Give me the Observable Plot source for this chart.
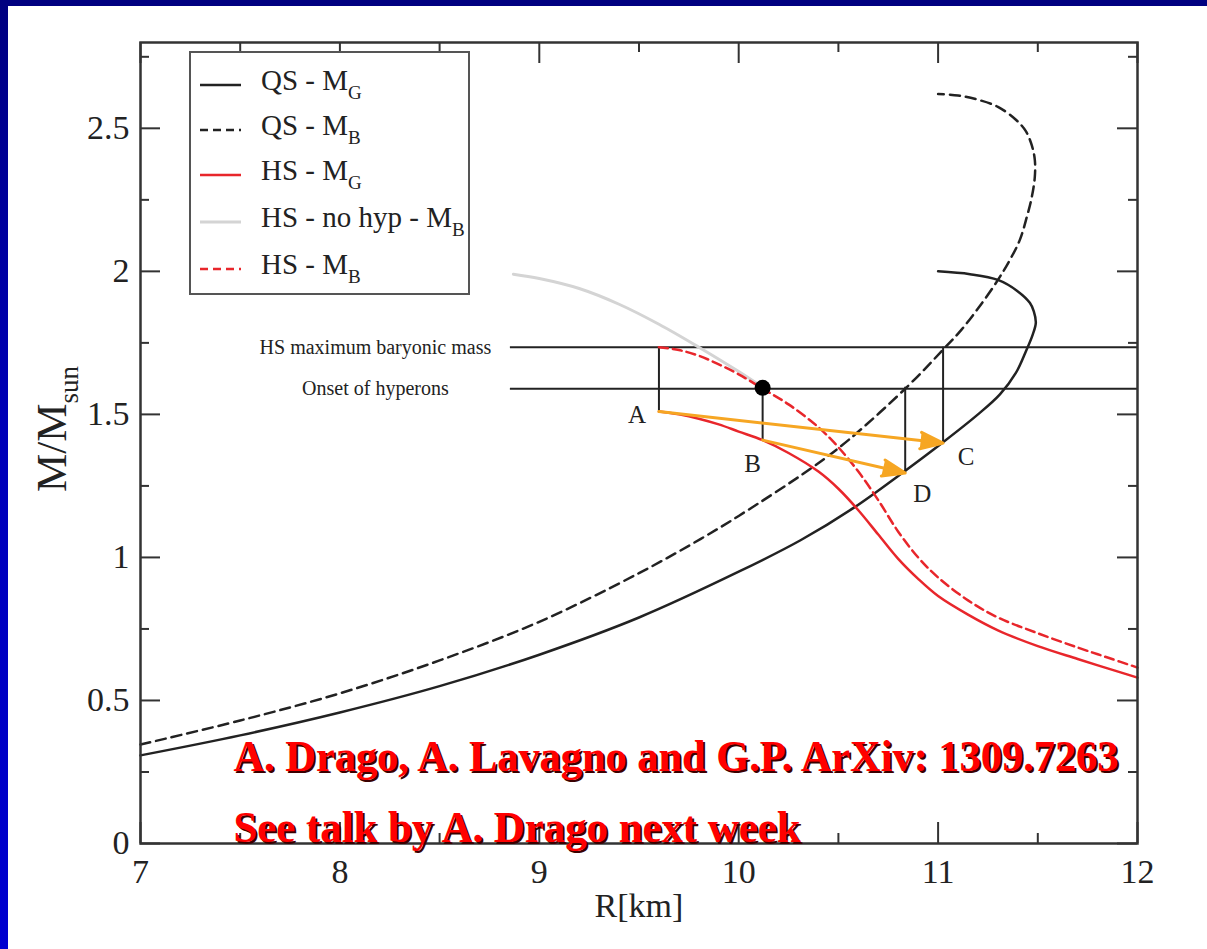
<!DOCTYPE html>
<html><head><meta charset="utf-8">
<script src="https://cdn.jsdelivr.net/npm/d3@7"></script>
<script src="https://cdn.jsdelivr.net/npm/@observablehq/plot@0.6"></script>
<style>
html,body{margin:0;padding:0;background:#fff;width:1207px;height:949px;overflow:hidden;position:relative;font-family:'Liberation Serif','Times New Roman',serif;}
#topband{position:absolute;left:0;top:0;width:1207px;height:6px;background:#000080;}
#leftband{position:absolute;left:0;top:0;width:8px;height:949px;background:linear-gradient(#000080,#0000b8 45%,#0000d0);}
#chart{position:absolute;left:0;top:0;}
#legend{position:absolute;left:189px;top:51px;width:281px;height:244px;border:2px solid #555;background:#fff;box-sizing:border-box;}
.lrow{position:absolute;left:0;height:30px;width:100%;}
.lrow svg{position:absolute;left:9px;top:0;}
.lrow span{position:absolute;left:70px;top:-5px;font-size:29px;color:#222;white-space:nowrap;line-height:30px;}
.lrow sub{font-size:19px;vertical-align:-9px;line-height:0;}
</style></head>
<body>
<div id="topband"></div><div id="leftband"></div>
<div id="chart"></div>
<div id="legend"></div>
<script>
// ---------- data ----------
const xTicks = [7, 8, 9, 10, 11, 12];
const xMinor = [7.5, 8.5, 9.5, 10.5, 11.5];
const yTicks = [0, 0.5, 1, 1.5, 2, 2.5];
const yMinor = [0.25, 0.75, 1.25, 1.75, 2.25, 2.75];

// QS - M_G  [R km, M/Msun]
const qsMG = [[7,0.308],[7.5,0.378],[8,0.458],[8.5,0.55],[9,0.66],[9.5,0.79],[10.0,0.95],[10.31,1.06],
  [10.58,1.175],[10.81,1.29],[11.02,1.40],[11.2,1.50],[11.31,1.57],[11.39,1.645],[11.44,1.72],[11.475,1.78],
  [11.49,1.82],[11.48,1.86],[11.46,1.89],[11.40,1.93],[11.30,1.97],[11.16,1.99],[11.0,2.0]];
// QS - M_B
const qsMB = [[7,0.346],[7.5,0.43],[8,0.525],[8.5,0.64],[9,0.775],[9.5,0.945],[9.81,1.065],[10.0,1.145],
  [10.36,1.31],[10.55,1.41],[10.85,1.60],[11.03,1.73],[11.11,1.79],[11.20,1.87],[11.30,1.97],[11.36,2.04],
  [11.41,2.11],[11.445,2.19],[11.47,2.26],[11.485,2.33],[11.485,2.39],[11.47,2.44],[11.44,2.49],[11.39,2.53],
  [11.3,2.575],[11.2,2.60],[11.1,2.615],[11.0,2.62]];
// HS - M_G
const hsMG = [[9.60,1.51],[9.7,1.50],[9.8,1.485],[9.9,1.465],[10.0,1.44],[10.12,1.41],[10.25,1.365],[10.4,1.30],
  [10.5,1.24],[10.6,1.165],[10.7,1.08],[10.8,0.995],[10.9,0.925],[11.0,0.865],[11.15,0.80],[11.3,0.745],
  [11.5,0.69],[11.7,0.645],[11.85,0.612],[12.0,0.58]];
// HS - M_B
const hsMB = [[9.60,1.735],[9.7,1.725],[9.8,1.705],[9.9,1.675],[10.0,1.64],[10.12,1.59],[10.25,1.535],[10.4,1.455],
  [10.5,1.385],[10.6,1.30],[10.7,1.20],[10.8,1.09],[10.9,1.00],[11.0,0.93],[11.15,0.85],[11.3,0.79],
  [11.5,0.735],[11.7,0.685],[11.85,0.65],[12.0,0.615]];
// HS - no hyp - M_B
const hsNoHyp = [[8.87,1.99],[9.0,1.975],[9.2,1.94],[9.4,1.885],[9.6,1.815],[9.8,1.735],[10.0,1.65],[10.12,1.595]];

const hLines = [
  {label: "HS maximum baryonic mass", y: 1.735, x1: 8.855, x2: 12},
  {label: "Onset of hyperons", y: 1.59, x1: 8.855, x2: 12}
];
const vLines = [
  {x: 9.60, y1: 1.735, y2: 1.51},
  {x: 10.12, y1: 1.59, y2: 1.41},
  {x: 10.835, y1: 1.595, y2: 1.295},
  {x: 11.025, y1: 1.735, y2: 1.40}
];
const points = [
  {name: "A", x: 9.60, y: 1.51},
  {name: "B", x: 10.12, y: 1.41},
  {name: "C", x: 11.025, y: 1.40},
  {name: "D", x: 10.835, y: 1.295}
];
const arrows = [
  {from: "A", to: "C"},
  {from: "B", to: "D"}
];
const onsetDot = [{x: 10.12, y: 1.593}];
const citeLines = ["A. Drago, A. Lavagno and G.P. ArXiv: 1309.7263", "See talk by A. Drago next week"];
const legendItems = [
  {label: "QS - M_G", color: "#222", dash: null},
  {label: "QS - M_B", color: "#222", dash: "8,5"},
  {label: "HS - M_G", color: "#e8262b", dash: null},
  {label: "HS - no hyp - M_B", color: "#d4d4d4", dash: null},
  {label: "HS - M_B", color: "#e8262b", dash: "8,5"}
];
const xLabel = "R[km]";
const yLabel = "M/M_sun";

// ---------- styles ----------
const BLACK = "#222", RED = "#e8262b", GRAY = "#d4d4d4", ORANGE = "#f6a623";
const labelOffsets = {A: [-22, 3], B: [-10, 24], C: [23, 14], D: [17, 21]};
const byName = Object.fromEntries(points.map(p => [p.name, p]));
const arrowData = arrows.map(a => ({x1: byName[a.from].x, y1: byName[a.from].y, x2: byName[a.to].x, y2: byName[a.to].y}));
const P = d => ({R: d[0], M: d[1]});

const tickLenMajX = 21 / 286, tickLenMinX = 10 / 286;   // in y units (ticks on horizontal axes)
const tickLenMajY = 20 / 199.4, tickLenMinY = 9 / 199.4; // in x units
const FONT = "'Liberation Serif', 'Times New Roman', serif";

const chart = Plot.plot({
  width: 1207, height: 949,
  marginLeft: 140, marginRight: 70, marginTop: 42, marginBottom: 106,
  style: {background: "transparent", fontFamily: FONT, color: "#222", overflow: "visible"},
  x: {domain: [7, 12]},
  y: {domain: [0, 2.8]},
  marks: [
    // ticks (inward, all four sides)
    Plot.ruleX(xTicks, {x: d => d, y1: 0, y2: tickLenMajX, stroke: "#333", strokeWidth: 2}),
    Plot.ruleX(xMinor, {x: d => d, y1: 0, y2: tickLenMinX, stroke: "#333", strokeWidth: 2}),
    Plot.ruleX(xTicks, {x: d => d, y1: 2.8 - tickLenMajX, y2: 2.8, stroke: "#333", strokeWidth: 2}),
    Plot.ruleX(xMinor, {x: d => d, y1: 2.8 - tickLenMinX, y2: 2.8, stroke: "#333", strokeWidth: 2}),
    Plot.ruleY(yTicks, {y: d => d, x1: 7, x2: 7 + tickLenMajY, stroke: "#333", strokeWidth: 2}),
    Plot.ruleY(yMinor, {y: d => d, x1: 7, x2: 7 + tickLenMinY, stroke: "#333", strokeWidth: 2}),
    Plot.ruleY(yTicks, {y: d => d, x1: 12 - tickLenMajY, x2: 12, stroke: "#333", strokeWidth: 2}),
    Plot.ruleY(yMinor, {y: d => d, x1: 12 - tickLenMinY, x2: 12, stroke: "#333", strokeWidth: 2}),
    Plot.axisX({ticks: xTicks, tickSize: 0, tickPadding: 15, fontSize: 34, label: null, tickFormat: d => String(d)}),
    Plot.axisY({ticks: yTicks, tickSize: 0, tickPadding: 11, fontSize: 34, label: null, tickFormat: d => String(d)}),
    // reference lines
    Plot.ruleY(hLines, {y: "y", x1: "x1", x2: "x2", stroke: BLACK, strokeWidth: 2}),
    Plot.text(hLines, {x: "x1", y: "y", text: "label", dx: -135, textAnchor: "middle", fontSize: 20, fill: BLACK}),
    Plot.ruleX(vLines, {x: "x", y1: "y1", y2: "y2", stroke: BLACK, strokeWidth: 2}),
    // curves
    Plot.line(hsNoHyp.map(P), {x: "R", y: "M", stroke: GRAY, strokeWidth: 3, curve: "catmull-rom"}),
    Plot.line(qsMG.map(P), {x: "R", y: "M", stroke: BLACK, strokeWidth: 2.5, curve: "catmull-rom"}),
    Plot.line(qsMB.map(P), {x: "R", y: "M", stroke: BLACK, strokeWidth: 2.5, strokeDasharray: "10,6", curve: "catmull-rom"}),
    Plot.line(hsMG.map(P), {x: "R", y: "M", stroke: RED, strokeWidth: 2.5, curve: "catmull-rom"}),
    Plot.line(hsMB.map(P), {x: "R", y: "M", stroke: RED, strokeWidth: 2.5, strokeDasharray: "9,5", curve: "catmull-rom"}),
    // arrows and onset point
    Plot.arrow(arrowData, {x1: "x1", y1: "y1", x2: "x2", y2: "y2", stroke: ORANGE, strokeWidth: 3, headLength: 12, headAngle: 40, ariaDescription: "orange-arrows"}),
    Plot.dot(onsetDot, {x: "x", y: "y", r: 8, fill: "#000"}),
    ...points.map(p => Plot.text([p], {x: "x", y: "y", text: "name", dx: labelOffsets[p.name][0], dy: labelOffsets[p.name][1], fontSize: 25, fill: BLACK})),
    // axis titles
    Plot.text([xLabel], {frameAnchor: "bottom", dx: 0, dy: 73, fontSize: 34, fill: BLACK}),
    Plot.text([yLabel], {frameAnchor: "left", textAnchor: "middle", dx: -88, dy: -14, rotate: -90, fontSize: 43, fill: BLACK}),
    // frame
    Plot.frame({stroke: "#333", strokeWidth: 2.5}),
    // citation (shadow + red)
    Plot.text([citeLines[0]], {frameAnchor: "bottom-left", dx: 95, dy: -71, textAnchor: "start", fontSize: 45, fontWeight: "bold", fill: "#3a0000"}),
    Plot.text([citeLines[0]], {frameAnchor: "bottom-left", dx: 93, dy: -73, textAnchor: "start", fontSize: 45, fontWeight: "bold", fill: "#ff0000"}),
    Plot.text([citeLines[1]], {frameAnchor: "bottom-left", dx: 95, dy: 0, textAnchor: "start", fontSize: 45, fontWeight: "bold", fill: "#3a0000"}),
    Plot.text([citeLines[1]], {frameAnchor: "bottom-left", dx: 93, dy: -2, textAnchor: "start", fontSize: 45, fontWeight: "bold", fill: "#ff0000"})
  ]
});
document.getElementById("chart").appendChild(chart);

// filled arrow heads: fill the arrow paths (the head sub-path closes into a triangle)
d3.select(chart).selectAll('g[aria-description="orange-arrows"] path').attr("fill", ORANGE).attr("stroke-linejoin", "miter");

// fit citation widths (condensed face)
const citeWidths = [885, 567];
d3.select(chart).selectAll("text").each(function() {
  const i = citeLines.indexOf(this.textContent);
  if (i >= 0) { this.setAttribute("textLength", citeWidths[i]); this.setAttribute("lengthAdjust", "spacingAndGlyphs"); }
});

// subscripts (text after "_")
d3.select(chart).selectAll("text").each(function() {
  const t = this;
  const s = t.textContent;
  if (!s.includes("_")) return;
  const [main, sub] = s.split("_");
  const fs = parseFloat(getComputedStyle(t).fontSize) || 30;
  t.textContent = main;
  const ts = document.createElementNS("http://www.w3.org/2000/svg", "tspan");
  ts.setAttribute("font-size", Math.round(fs * 0.62));
  ts.setAttribute("dy", Math.round(fs * 0.28));
  ts.textContent = sub;
  t.appendChild(ts);
});

// legend
const leg = document.getElementById("legend");
const rowTops = [17, 62, 107, 154, 201];
legendItems.forEach((it, i) => {
  const row = document.createElement("div");
  row.className = "lrow";
  row.style.top = rowTops[i] + "px";
  const [main, sub] = it.label.split("_");
  row.innerHTML = `<svg width="44" height="30"><line x1="0" x2="41" y1="15" y2="15" stroke="${it.color}" stroke-width="${it.dash ? 2.5 : (it.color === '#d4d4d4' ? 3 : 2.5)}" ${it.dash ? `stroke-dasharray="${it.dash}"` : ""}/></svg><span>${main}<sub>${sub}</sub></span>`;
  leg.appendChild(row);
});
</script>
</body></html>
